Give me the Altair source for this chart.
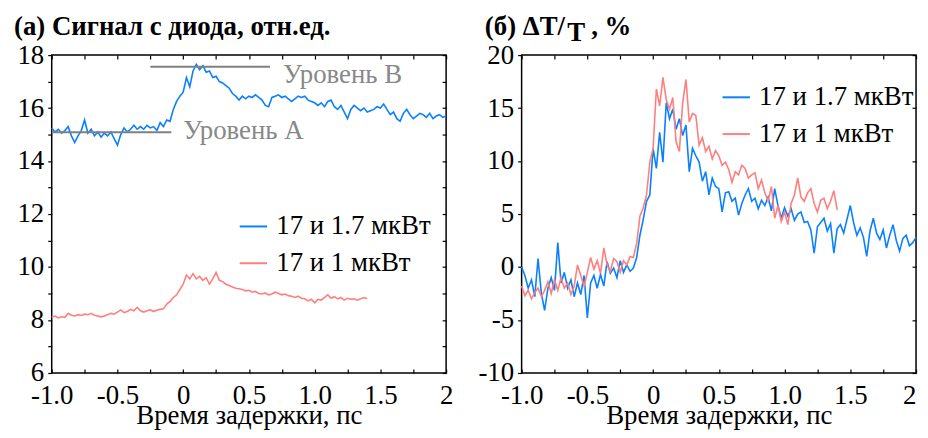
import altair as alt
import pandas as pd

# ---------------- data ----------------
TIME = [
    -1.0, -0.975, -0.95, -0.925, -0.9, -0.875, -0.85, -0.825,
    -0.8, -0.775, -0.75, -0.725, -0.7, -0.675, -0.65, -0.625,
    -0.6, -0.575, -0.55, -0.525, -0.5, -0.475, -0.45, -0.425,
    -0.4, -0.375, -0.35, -0.325, -0.3, -0.275, -0.25, -0.225,
    -0.2, -0.175, -0.15, -0.125, -0.1, -0.075, -0.05, -0.025,
    0.0, 0.025, 0.05, 0.075, 0.1, 0.125, 0.15, 0.175,
    0.2, 0.225, 0.25, 0.275, 0.3, 0.325, 0.35, 0.375,
    0.4, 0.425, 0.45, 0.475, 0.5, 0.525, 0.55, 0.575,
    0.6, 0.625, 0.65, 0.675, 0.7, 0.725, 0.75, 0.775,
    0.8, 0.825, 0.85, 0.875, 0.9, 0.925, 0.95, 0.975,
    1.0, 1.025, 1.05, 1.075, 1.1, 1.125, 1.15, 1.175,
    1.2, 1.225, 1.25, 1.275, 1.3, 1.325, 1.35, 1.375,
    1.4, 1.425, 1.45, 1.475, 1.5, 1.525, 1.55, 1.575,
    1.6, 1.625, 1.65, 1.675, 1.7, 1.725, 1.75, 1.775,
    1.8, 1.825, 1.85, 1.875, 1.9, 1.925, 1.95, 1.975,
    2.0,
]
TIME_RED = TIME[:97]  # the 1 мкВт scans stop at 1.4 ps

# (а) diode signal, arb. units
SIG_BLUE = [
    15.25, 15.10, 15.20, 15.05, 15.15, 15.30, 14.95, 14.70,
    14.95, 15.15, 15.55, 15.05, 15.20, 14.95, 15.10, 14.90,
    15.05, 14.95, 15.10, 14.85, 14.60, 15.00, 15.25, 15.10,
    15.20, 15.35, 15.20, 15.30, 15.20, 15.35, 15.25, 15.30,
    15.15, 15.45, 15.30, 15.55, 15.50, 15.95, 16.25, 16.45,
    16.60, 17.15, 16.80, 17.40, 17.65, 17.45, 17.60, 17.35,
    17.40, 17.15, 17.20, 17.00, 16.95, 16.85, 16.75, 16.55,
    16.45, 16.30, 16.45, 16.35, 16.45, 16.40, 16.50, 16.40,
    16.30, 16.10, 16.05, 16.40, 16.45, 16.50, 16.40, 16.45,
    16.35, 16.25, 16.35, 16.45, 16.40, 16.45, 16.30, 16.25,
    16.20, 16.10, 16.20, 16.05, 16.25, 16.30, 16.05, 15.95,
    16.10, 15.85, 15.60, 15.95, 16.10, 16.00, 15.90, 16.00,
    15.85, 15.90, 15.95, 16.05, 16.00, 16.15, 15.95, 15.75,
    15.85, 15.60, 15.50, 15.80, 15.95, 15.75, 15.60, 15.70,
    15.80, 15.75, 15.65, 15.80, 15.60, 15.70, 15.75, 15.65,
    15.70,
]
SIG_RED = [
    8.10, 8.15, 8.08, 8.12, 8.10, 8.25, 8.18, 8.15,
    8.20, 8.17, 8.22, 8.20, 8.25, 8.18, 8.15, 8.12,
    8.15, 8.20, 8.25, 8.22, 8.30, 8.38, 8.28, 8.32,
    8.40, 8.35, 8.48, 8.35, 8.30, 8.35, 8.38, 8.32,
    8.38, 8.40, 8.42, 8.60, 8.70, 8.85, 8.95, 9.15,
    9.35, 9.70, 9.55, 9.75, 9.55, 9.65, 9.50, 9.60,
    9.35, 9.55, 9.80, 9.50, 9.45, 9.35, 9.30, 9.25,
    9.20, 9.18, 9.15, 9.10, 9.12, 9.05, 9.08, 9.00,
    8.98, 9.02, 8.95, 8.98, 9.05, 9.00, 8.95, 8.98,
    8.92, 8.90, 8.85, 8.90, 8.82, 8.80, 8.72, 8.78,
    8.65, 8.78, 8.75, 8.85, 8.95, 8.82, 8.88, 8.80,
    8.85, 8.75, 8.82, 8.78, 8.80, 8.75, 8.80, 8.85,
    8.80,
]

# (б) ΔT/T, %
DT_BLUE = [
    0.0, -0.8, -2.0, -1.2, -2.8, 0.8, -2.5, -4.1,
    -2.0, -1.0, -2.2, 2.3, -1.5, -0.5, -2.0, -1.2,
    -2.8, -1.5, -2.6, -0.8, -4.8, -1.5, -0.8, -2.0,
    -0.7, -1.8, 0.5, -0.6, -0.1, -1.0, 0.6, -0.5,
    0.2, -0.4, -0.1, 0.9, 3.0, 4.5, 6.2, 6.8,
    11.2, 9.3, 12.7, 9.9, 15.5, 14.0, 14.9, 13.0,
    14.0, 12.4, 13.4, 9.0, 11.2, 10.5, 9.9, 8.1,
    9.0, 6.8, 8.4, 7.6, 7.4, 5.2, 7.0, 7.1,
    6.2, 6.5, 4.9, 6.0, 6.8, 7.4, 6.2, 6.5,
    5.5, 6.3, 5.8, 6.6, 5.3, 7.4, 5.8, 4.6,
    5.6, 4.8, 5.5, 4.4, 5.0, 5.2, 4.2, 4.3,
    3.5, 1.3, 3.8, 4.2, 4.6, 3.4, 4.1, 1.3,
    3.6, 4.0, 3.2, 4.5, 5.8, 4.2, 3.0, 3.7,
    2.8, 1.0, 3.4, 4.6, 3.2, 2.6, 3.5, 1.8,
    3.0, 4.0, 2.5, 1.5, 2.7, 3.0, 2.0, 2.3,
    2.8,
]
DT_RED = [
    -1.8, -2.7, -2.2, -3.0, -2.4, -2.0, -2.8, -2.2,
    -1.4, -2.5, -1.2, -2.2, -1.0, -2.0, -1.5, -2.6,
    -1.8, 0.2, -0.8, -1.8, -0.5, 0.9, -0.2, 0.6,
    -0.6, 1.8, 0.2, -0.4, 0.8, 0.5, -0.5, 0.6,
    0.2, 1.0, 0.9, 2.2, 4.8, 5.6, 6.8, 9.9,
    11.2, 16.8, 15.2, 17.9, 15.8, 14.9, 16.0, 11.8,
    10.9, 15.5, 17.7, 13.7, 14.5, 14.3, 11.5, 12.2,
    10.9, 11.4, 10.2, 11.0, 10.5, 9.6, 9.9, 9.2,
    8.0, 9.0, 8.7, 9.6, 9.3, 8.4, 8.7, 8.9,
    7.4, 8.2, 7.0, 6.2, 7.6, 4.6, 5.8, 4.3,
    5.2, 4.0, 6.0, 6.8, 8.4, 6.6, 6.2, 7.0,
    7.4, 6.0, 5.2, 6.3, 6.5, 5.5, 6.2, 7.2,
    5.4,
]

SERIES = ["17 и 1.7 мкВт", "17 и 1 мкВт"]
COLORS = ["#0a80ff", "#ff7f7f"]

LEVEL_NAMES = ["Уровень А", "Уровень В"]
LEVEL_VALUES = [15.09, 17.56]
LEVEL_X_START = [-1.0, -0.25]
LEVEL_X_END = [-0.09, 0.66]
LEVEL_LABEL_X = [0.0, 0.76]
LEVEL_LABEL_Y = [15.12, 17.24]

X_TICKS = [-1.0, -0.75, -0.5, -0.25, 0.0, 0.25, 0.5, 0.75, 1.0, 1.25, 1.5, 1.75, 2.0]
Y_TICKS_A = [6, 7, 8, 9, 10, 11, 12, 13, 14, 15, 16, 17, 18]
Y_TICKS_B = [-10, -5, 0, 5, 10, 15, 20]

TITLE_A = "(а) Сигнал с диода, отн.ед."
TITLE_B_MAIN = "(б) ΔT/"
TITLE_B_SUB = "T"
TITLE_B_END = ", %"
X_TITLE = "Время задержки, пс"

# ---------------- styling ----------------
FONT = "Liberation Serif"
FS = 27
W, H = 397, 320
TICK = 4

X_LABEL_EXPR = (
    "datum.value == 0 ? '0' : datum.value == 2 ? '2' : "
    "(datum.value * 4) % 2 != 0 ? '' : "
    "(datum.value < 0 ? '-' : '') + format(abs(datum.value), '.1f')"
)

common_axis = dict(domain=False, grid=False, tickColor="black", tickWidth=1.2,
                   labelFont=FONT, labelFontSize=FS, labelColor="black",
                   labelOverlap=False, labelFlush=False)


def frame_df(times_a, vals_a, times_b, vals_b):
    a = pd.DataFrame({"t": times_a, "v": vals_a, "s": SERIES[0], "o": 0})
    b = pd.DataFrame({"t": times_b, "v": vals_b, "s": SERIES[1], "o": 1})
    return pd.concat([a, b], ignore_index=True)


def panel(df, y_domain, y_ticks, y_label_expr, legend_x, legend_y, extra_layers,
          last_label_right=False):
    xs = alt.Scale(domain=[-1, 2], nice=False, zero=False)
    ys = alt.Scale(domain=y_domain, nice=False, zero=False)
    x_extra = {}
    if last_label_right:
        x_extra["labelAlign"] = {"condition": {"test": "datum.value == 2", "value": "right"},
                                 "value": "center"}
    lines = alt.Chart(df).mark_line(strokeWidth=1.6).encode(
        x=alt.X("t:Q", scale=xs, axis=alt.Axis(
            orient="bottom", values=X_TICKS, labelExpr=X_LABEL_EXPR, offset=-TICK,
            tickSize=TICK, labelPadding=9.5, title=X_TITLE, titlePadding=-5.5,
            titleFont=FONT, titleFontSize=FS, titleFontWeight="normal",
            titleColor="black", **x_extra, **common_axis)),
        y=alt.Y("v:Q", scale=ys, axis=alt.Axis(
            orient="left", values=y_ticks, labelExpr=y_label_expr, tickSize=TICK,
            labelPadding=4, title=None, **common_axis)),
        color=alt.Color("s:N", scale=alt.Scale(domain=SERIES, range=COLORS),
                        legend=alt.Legend(
                            orient="none", legendX=legend_x, legendY=legend_y,
                            title=None, symbolType="stroke", symbolStrokeWidth=2,
                            symbolSize=760, labelFont=FONT, labelFontSize=FS,
                            labelColor="black", labelOffset=8, rowPadding=9,
                            labelLimit=400, padding=0)),
        order=alt.Order("o:Q"),
    )
    ghost = alt.Chart(df).mark_line(strokeOpacity=0).encode(
        x=alt.X("t:Q", scale=xs, axis=alt.Axis(
            orient="top", values=X_TICKS, labels=False, offset=-TICK, tickSize=TICK,
            title=None, **common_axis)),
        y=alt.Y("v:Q", scale=ys, axis=alt.Axis(
            orient="right", values=y_ticks, labels=False, offset=-TICK, tickSize=TICK,
            title=None, **common_axis)),
        detail="s:N",
    )
    layers = [lines, ghost] + [f(xs, ys) for f in extra_layers]
    return alt.layer(*layers).properties(width=W, height=H).resolve_axis(
        x="independent", y="independent")


def title_text(text, x, y):
    def make(xs, ys):
        return alt.Chart(pd.DataFrame({"txt": [text]})).mark_text(
            align="left", baseline="top", font=FONT, fontSize=FS,
            fontWeight="bold", color="black",
        ).encode(x=alt.value(x), y=alt.value(y), text="txt:N")
    return make


levels = pd.DataFrame({
    "name": LEVEL_NAMES, "level": LEVEL_VALUES,
    "x0": LEVEL_X_START, "x1": LEVEL_X_END,
    "lx": LEVEL_LABEL_X, "ly": LEVEL_LABEL_Y,
})


def level_rules(xs, ys):
    return alt.Chart(levels).mark_rule(color="#808080", strokeWidth=2).encode(
        x=alt.X("x0:Q", scale=xs, axis=None), x2="x1:Q",
        y=alt.Y("level:Q", scale=ys, axis=None))


def level_texts(xs, ys):
    return alt.Chart(levels).mark_text(
        align="left", baseline="middle", font=FONT, fontSize=FS, color="#888888"
    ).encode(x=alt.X("lx:Q", scale=xs, axis=None),
             y=alt.Y("ly:Q", scale=ys, axis=None), text="name:N")


left = panel(
    frame_df(TIME, SIG_BLUE, TIME_RED, SIG_RED), [6, 18], Y_TICKS_A,
    "datum.value % 2 == 0 ? datum.label : ''", 188, 157.5,
    [level_rules, level_texts, title_text(TITLE_A, -38, -41.5)],
)
right = panel(
    frame_df(TIME, DT_BLUE, TIME_RED, DT_RED), [-10, 20], Y_TICKS_B,
    "(datum.value < 0 ? '-' : '') + abs(datum.value)", 201, 27.5,
    [title_text(TITLE_B_MAIN, -37, -41.5), title_text(TITLE_B_SUB, 46, -35.5),
     title_text(TITLE_B_END, 70, -41.5)],
    last_label_right=True,
)

chart = alt.hconcat(left, right, spacing=76, bounds="flush").resolve_scale(
    color="independent").resolve_legend(color="independent").configure(
    padding={"left": 5, "top": 2, "right": 0, "bottom": 0},
    background="white",
).configure_view(stroke="black", strokeWidth=1.5)

chart.save("out.html", embed_options={"renderer": "svg", "actions": False})
